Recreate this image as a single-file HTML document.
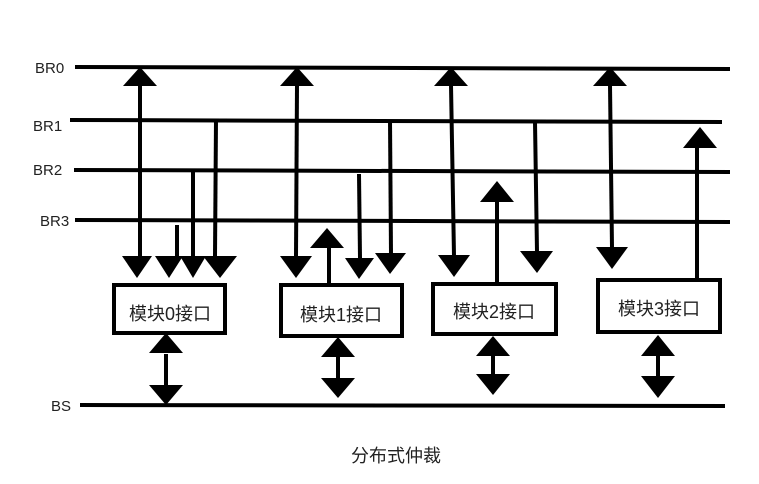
<!DOCTYPE html>
<html><head><meta charset="utf-8"><style>
html,body{margin:0;padding:0;background:#fff;}
svg{display:block;}
text{font-family:"Liberation Sans","Noto Sans CJK SC",sans-serif;fill:#222;}
</style></head><body>
<svg width="759" height="484" viewBox="0 0 759 484" xmlns="http://www.w3.org/2000/svg">
<g stroke="#000" stroke-width="4" fill="none">
<line x1="75" y1="67" x2="730" y2="69"/>
<line x1="70" y1="120" x2="722" y2="122"/>
<line x1="74" y1="170" x2="730" y2="172"/>
<line x1="75" y1="220" x2="730" y2="222"/>
<line x1="80" y1="405" x2="725" y2="406"/>
<!-- module 0 -->
<line x1="140" y1="85" x2="140" y2="256"/>
<line x1="177" y1="225" x2="177" y2="256"/>
<line x1="193" y1="170" x2="193" y2="256"/>
<line x1="216" y1="120" x2="215" y2="256"/>
<line x1="166" y1="354" x2="166" y2="386"/>
<!-- module 1 -->
<line x1="297" y1="85" x2="296" y2="256"/>
<line x1="329" y1="246" x2="329" y2="284"/>
<line x1="359" y1="174" x2="360" y2="258"/>
<line x1="390" y1="120" x2="391" y2="254"/>
<line x1="338" y1="356" x2="338" y2="378"/>
<!-- module 2 -->
<line x1="451" y1="85" x2="454" y2="256"/>
<line x1="497" y1="202" x2="497" y2="284"/>
<line x1="535" y1="122" x2="537" y2="252"/>
<line x1="493" y1="356" x2="493" y2="374"/>
<!-- module 3 -->
<line x1="610" y1="85" x2="612" y2="248"/>
<line x1="697" y1="148" x2="697" y2="280"/>
<line x1="658" y1="356" x2="658" y2="376"/>
<rect x="114" y="285" width="111" height="48"/>
<rect x="281" y="285" width="121" height="51"/>
<rect x="433" y="284" width="123" height="50"/>
<rect x="598" y="280" width="122" height="52"/>
</g>
<g fill="#000">
<!-- up triangles: apex at top -->
<polygon points="140,67 123,86 157,86"/>
<polygon points="297,67 280,86 314,86"/>
<polygon points="451,67 434,86 468,86"/>
<polygon points="610,67 593,86 627,86"/>
<polygon points="327,228 310,248 344,248"/>
<polygon points="497,181 480,202 514,202"/>
<polygon points="700,127 683,148 717,148"/>
<polygon points="166,333 149,353 183,353"/>
<polygon points="338,337 321,357 355,357"/>
<polygon points="493,336 476,356 510,356"/>
<polygon points="658,335 641,356 675,356"/>
<!-- down triangles -->
<polygon points="122,256 152,256 137,278"/>
<polygon points="155,256 183,256 169,278"/>
<polygon points="180,256 206,256 193,278"/>
<polygon points="203,256 237,256 220,278"/>
<polygon points="280,256 312,256 296,278"/>
<polygon points="345,258 374,258 359,279"/>
<polygon points="375,253 406,253 390,274"/>
<polygon points="438,255 470,255 454,277"/>
<polygon points="520,251 553,251 537,273"/>
<polygon points="596,247 628,247 612,269"/>
<polygon points="149,385 183,385 166,405"/>
<polygon points="321,378 355,378 338,398"/>
<polygon points="476,374 510,374 493,395"/>
<polygon points="641,376 675,376 658,398"/>
</g>
<g font-size="15">
<text x="35" y="73">BR0</text>
<text x="33" y="131">BR1</text>
<text x="33" y="175">BR2</text>
<text x="40" y="226">BR3</text>
<text x="51" y="411">BS</text>
</g>
<g font-size="18" text-anchor="middle">
<text x="170" y="320">模块0接口</text>
<text x="341" y="321">模块1接口</text>
<text x="494" y="318">模块2接口</text>
<text x="659" y="315">模块3接口</text>
<text x="396" y="462">分布式仲裁</text>
</g>
</svg>
</body></html>
